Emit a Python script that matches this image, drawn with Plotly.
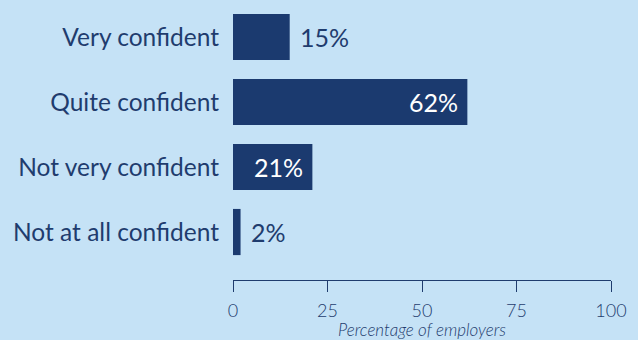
import plotly.graph_objects as go

# Survey responses, listed bottom to top
categories = ["Not at all confident", "Not very confident", "Quite confident", "Very confident"]
values = [2, 21, 62, 15]
labels = ["2%", "21%", "62%", "15%"]
label_inside = [False, True, True, False]

x_ticks = [0, 25, 50, 75, 100]
x_title = "Percentage of employers"

NAVY = "#1b3a6f"
TEXT = "#1f3c6e"
BG = "#c5e2f6"

fig = go.Figure(
    go.Bar(
        x=values,
        y=categories,
        orientation="h",
        marker=dict(color=NAVY, line=dict(width=0)),
        width=0.71,
        hoverinfo="skip",
    )
)

# Value labels: white inside long bars, navy beside short ones
for cat, val, lab, inside in zip(categories, values, labels, label_inside):
    fig.add_annotation(
        x=val,
        y=cat,
        text=lab,
        showarrow=False,
        xanchor="right" if inside else "left",
        xshift=-7 if inside else 8,
        font=dict(size=25, family="Lato", color="white" if inside else TEXT),
    )

# Axis title sits low, close to the bottom edge
fig.add_annotation(
    x=0.5,
    y=-0.176,
    xref="paper",
    yref="paper",
    text="<i>" + x_title + "</i>",
    showarrow=False,
    xanchor="center",
    yanchor="middle",
    font=dict(size=17, family="Lato", weight=300, color=TEXT),
)

fig.update_layout(
    width=638,
    height=340,
    margin=dict(l=233, r=27, t=0, b=60),
    paper_bgcolor=BG,
    plot_bgcolor=BG,
    font=dict(family="Lato", color=TEXT),
    showlegend=False,
)

fig.update_xaxes(
    range=[0, 100],
    tickvals=x_ticks,
    ticks="outside",
    ticklen=11,
    tickwidth=1.3,
    tickcolor=TEXT,
    showline=True,
    linecolor=TEXT,
    linewidth=1.3,
    showgrid=False,
    zeroline=False,
    tickfont=dict(size=18, family="Lato", weight=300, color=TEXT),
    ticklabelstandoff=3,
)

fig.update_yaxes(
    categoryorder="array",
    categoryarray=categories,
    range=[-0.738, 3.569],
    showgrid=False,
    zeroline=False,
    showline=False,
    ticks="",
    ticklabelstandoff=13,
    tickfont=dict(size=24.5, family="Lato", color=TEXT),
)

fig.write_html("out.html")
